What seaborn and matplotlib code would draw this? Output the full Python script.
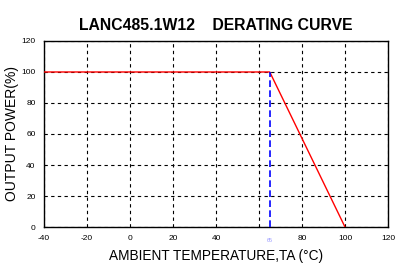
import matplotlib
matplotlib.use("Agg")
import matplotlib.pyplot as plt
import seaborn as sns
import pandas as pd

temps = [-40, 65, 100]
power = [100, 100, 0]
derate_temp = 65
xticks = [-40, -20, 0, 20, 40, 60, 80, 100, 120]
xtick_labels = ["-40", "-20", "0", "20", "40", "", "80", "100", "120"]
yticks = [0, 20, 40, 60, 80, 100, 120]

sns.set_style("white")
plt.rcParams['font.family'] = ['Liberation Sans', 'DejaVu Sans']
plt.rcParams['text.color'] = 'black'
plt.rcParams['axes.labelcolor'] = 'black'
plt.rcParams['xtick.color'] = 'black'
plt.rcParams['ytick.color'] = 'black'

fig = plt.figure(figsize=(4, 2.75), dpi=100)
ax = fig.add_axes([0.11, 0.1745, 0.86, 0.6765])

df = pd.DataFrame({"t": temps, "p": power})
sns.lineplot(data=df, x="t", y="p", ax=ax, color="red", linewidth=1.0, zorder=3)
ax.plot([derate_temp, derate_temp], [0, 100], color="blue", linestyle=(0, (4, 2)), linewidth=1.2, zorder=4)

ax.set_xlim(-40, 120)
ax.set_ylim(0, 120)
ax.set_xticks(xticks)
ax.set_xticklabels(xtick_labels)
ax.set_yticks(yticks)
ax.tick_params(labelsize=6, length=3, direction="in", width=0.8, pad=6)
ax.grid(True, color="black", linestyle=(0, (3, 3)), linewidth=0.8)
ax.set_axisbelow(True)
for s in ax.spines.values():
    s.set_color("black")
    s.set_linewidth(1.0)

ax.text(derate_temp, -0.075, "65", transform=ax.get_xaxis_transform(), color="#9999ff",
        fontsize=4, ha="center", va="center")

ax.set_xlabel("AMBIENT TEMPERATURE,TA (°C)", fontsize=9.8, labelpad=5, color="black")
ax.set_ylabel("OUTPUT POWER(%)", fontsize=10, labelpad=2, color="black")
ax.set_title("LANC485.1W12    DERATING CURVE", fontsize=11.3, fontweight="bold", pad=8, color="black")

fig.savefig("out.png", dpi=100)
